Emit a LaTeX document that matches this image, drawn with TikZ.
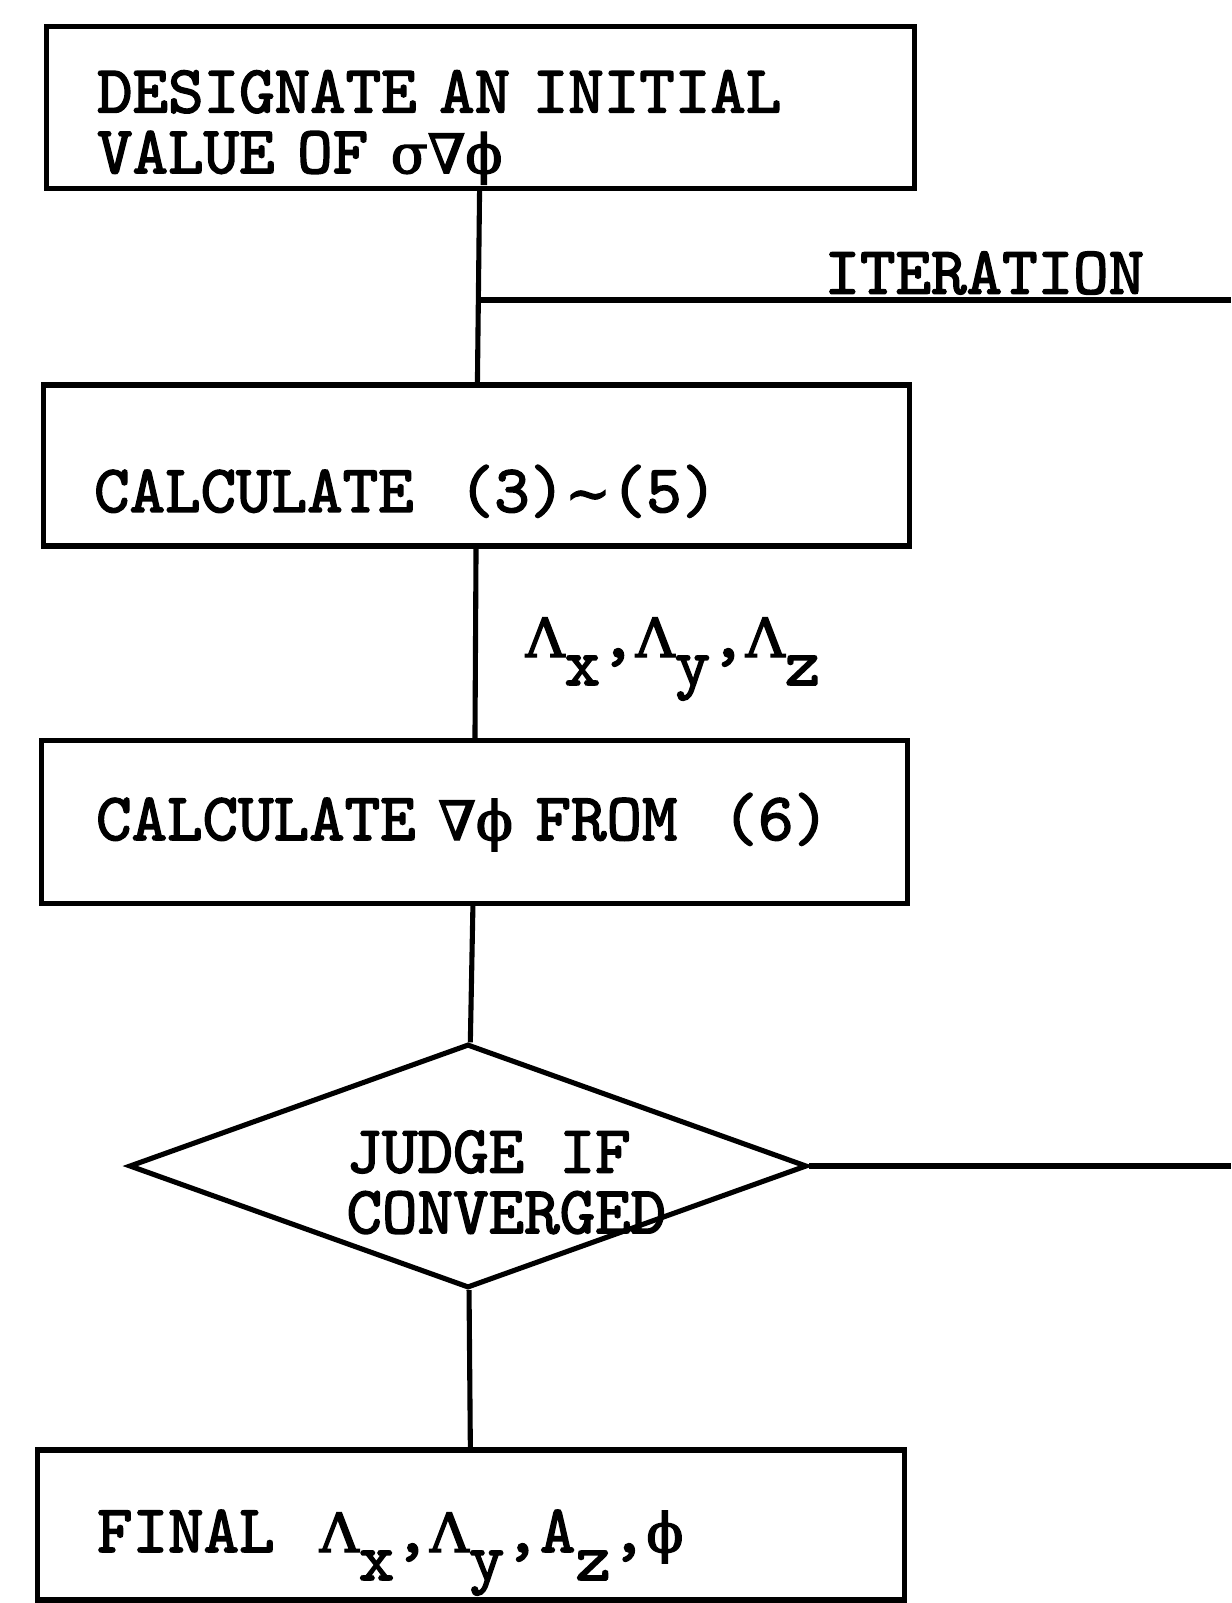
\documentclass[tikz,border=0pt]{standalone}
\usepackage{fontspec}
\newfontfamily\tw{lmmono10-regular.otf}[FakeBold=2.2]
\newfontfamily\grk{DejaVu Serif}[Scale=0.8, FakeBold=2.6]
\usetikzlibrary{shapes.geometric}
\newcommand{\gk}[1]{{\grk #1}}
\newcommand{\lw}[1]{\raisebox{-0.56cm}{#1}}

\begin{document}
\begin{tikzpicture}[x=0.02cm, y=-0.02cm, line width=2.9pt,
  every node/.style={font=\tw\fontsize{38.5}{34.5}\selectfont},
  stepbox/.style={draw, rectangle, inner xsep=1.02cm, inner ysep=0pt, align=left, text width=15.3cm, minimum height=3.22cm},
  decide/.style={draw, diamond, minimum width=13.56cm, minimum height=4.88cm, inner sep=0pt},
  lbl/.style={inner sep=0pt}]
	\useasboundingbox (0,0) rectangle (1231,1603);
	\fill[white] (0,0) rectangle (1231,1603);
	\node[stepbox, minimum height=3.24cm, text width=15.34cm, text height=1.4cm, text depth=1.2cm] (desig) at (480.5,107.5) {DESIGNATE AN INITIAL\\VALUE OF \gk{σ∇ϕ}};
	\node[stepbox, text height=1.86cm, text depth=0pt] (calcA) at (476.5,465.5) {CALCULATE~~(3)\gk{∼}(5)};
	\node[stepbox, minimum height=3.26cm, inner xsep=1.1cm, text width=15.14cm, text height=0.72cm, text depth=0pt] (calcB) at (474.5,822) {CALCULATE \gk{∇ϕ} FROM~~(6)};
	\node[decide] (judge) at (468,1166) {};
	\node[stepbox, minimum height=3.0cm, inner xsep=1.2cm, text width=14.96cm, text height=1.08cm, text depth=0pt] (final) at (471,1525) {FINAL~~\gk{Λ}\lw{x},\gk{Λ}\lw{y},A\lw{z},\gk{ϕ}};
	\node[lbl, anchor=north west, align=left] (judgetxt) at (344,1128) {JUDGE IF\\CONVERGED};
	\node[lbl, anchor=south west] (itlab) at (822,297) {ITERATION};
	\node[lbl, anchor=base west] (lamlab) at (523,657) {\gk{Λ}\lw{x},\gk{Λ}\lw{y},\gk{Λ}\lw{z}};
	\coordinate (iter) at (desig.south |- 0,300);
	\coordinate (iterEnd) at (1231,300);
	\coordinate (convEnd) at (1231,1166);
	\draw (desig) -- (calcA);
	\draw (iter) -- (iterEnd);
	\draw (calcA) -- (calcB);
	\draw (calcB) -- (judge);
	\draw (judge) -- (final);
	\draw (judge.east) -- (convEnd);
\end{tikzpicture}
\end{document}
